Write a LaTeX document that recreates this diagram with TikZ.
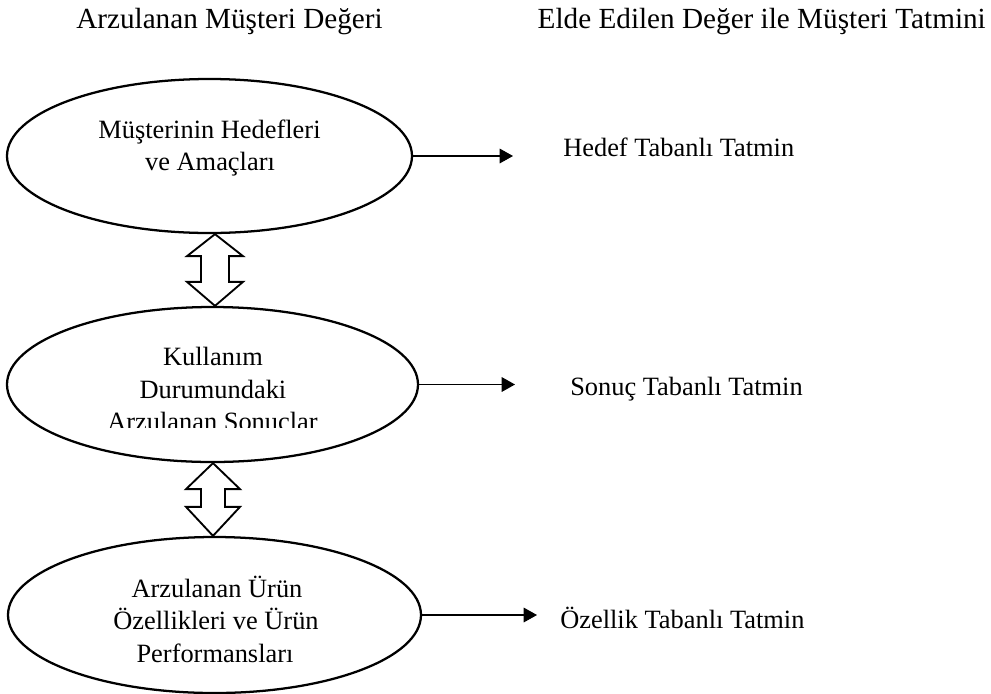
\documentclass[tikz,border=0pt]{standalone}
\usepackage{fontspec}
\setmainfont{Liberation Serif}
\usetikzlibrary{arrows.meta,calc,shapes.geometric}

\tikzset{
  goal/.style={draw, ellipse, line width=1.7pt, inner sep=0pt},
  txt/.style={inner sep=0pt, anchor=base, font=\fontsize{19.8}{24}\selectfont},
  head/.style={inner sep=0pt, anchor=base, font=\fontsize{21.9}{26}\selectfont},
  side/.style={inner sep=0pt, anchor=base west, font=\fontsize{19.8}{24}\selectfont},
  feed/.style={line width=0.8pt, -{Triangle[length=10pt,width=11pt]}},
  link/.style={draw, line width=1.4pt, fill=white, line join=miter},
}

\begin{document}
\begin{tikzpicture}[x=0.75pt, y=-0.75pt]
\useasboundingbox (0,0) rectangle (991,693);

% column headings
\node[head, anchor=base west] (h1) at (76,28) {Arzulanan Müşteri Değeri};
\node[head, anchor=base east] (h2) at (986,28) {Elde Edilen Değer ile Müşteri Tatmini};

% the three levels of desired value
\node[goal, minimum width=303.75pt, minimum height=115.5pt] (e1) at (209.5,156) {};
\node[goal, minimum width=308.25pt, minimum height=116.25pt] (e2) at (212.5,384.5) {};
\node[goal, minimum width=309.75pt, minimum height=117pt] (e3) at (214.5,615) {};

\node[txt] (e1a) at (209.5,138) {Müşterinin Hedefleri};
\node[txt] (e1b) at (210,170) {ve Amaçları};

\node[txt] (e2a) at (213,365) {Kullanım};
\node[txt] (e2b) at (213,398) {Durumundaki};
\begin{scope}
  \clip (0,300) rectangle (991,427.5);
  \node[txt] (e2c) at (212.5,430.5) {Arzulanan Sonuçlar};
\end{scope}

\node[txt] (e3a) at (217,597) {Arzulanan Ürün};
\node[txt] (e3b) at (216,629) {Özellikleri ve Ürün};
\node[txt] (e3c) at (215,662) {Performansları};

% hollow two-way arrows between the levels
\path ($(e1.south)+(5.5,0)$) coordinate (d1t) ($(e2.north)+(2.5,0)$) coordinate (d1b);
\draw[link] (d1t) -- ($(d1t)+(28,22)$) -- ($(d1t)+(14,22)$) -- ($(d1b)+(14,-24)$)
  -- ($(d1b)+(28,-24)$) -- (d1b) -- ($(d1b)+(-28,-24)$) -- ($(d1b)+(-14,-24)$)
  -- ($(d1t)+(-14,22)$) -- ($(d1t)+(-28,22)$) -- cycle;

\path ($(e2.south)+(0.5,0)$) coordinate (d2t) ($(e3.north)+(-1.5,0)$) coordinate (d2b);
\draw[link] (d2t) -- ($(d2t)+(27,26)$) -- ($(d2t)+(12,26)$) -- ($(d2b)+(12,-29)$)
  -- ($(d2b)+(27,-29)$) -- (d2b) -- ($(d2b)+(-27,-29)$) -- ($(d2b)+(-12,-29)$)
  -- ($(d2t)+(-12,26)$) -- ($(d2t)+(-27,26)$) -- cycle;

% satisfaction outcomes
\coordinate (a1) at (513,156);
\coordinate (a2) at (515,384.5);
\coordinate (a3) at (537,615);
\draw[feed] (e1.east) -- (a1);
\draw[feed] (e2.east) -- (a2);
\draw[feed] (e3.east) -- (a3);

\node[side] (s1) at (563,156) {Hedef Tabanlı Tatmin};
\node[side] (s2) at (570,395) {Sonuç Tabanlı Tatmin};
\node[side] (s3) at (560,628) {Özellik Tabanlı Tatmin};
\end{tikzpicture}
\end{document}
